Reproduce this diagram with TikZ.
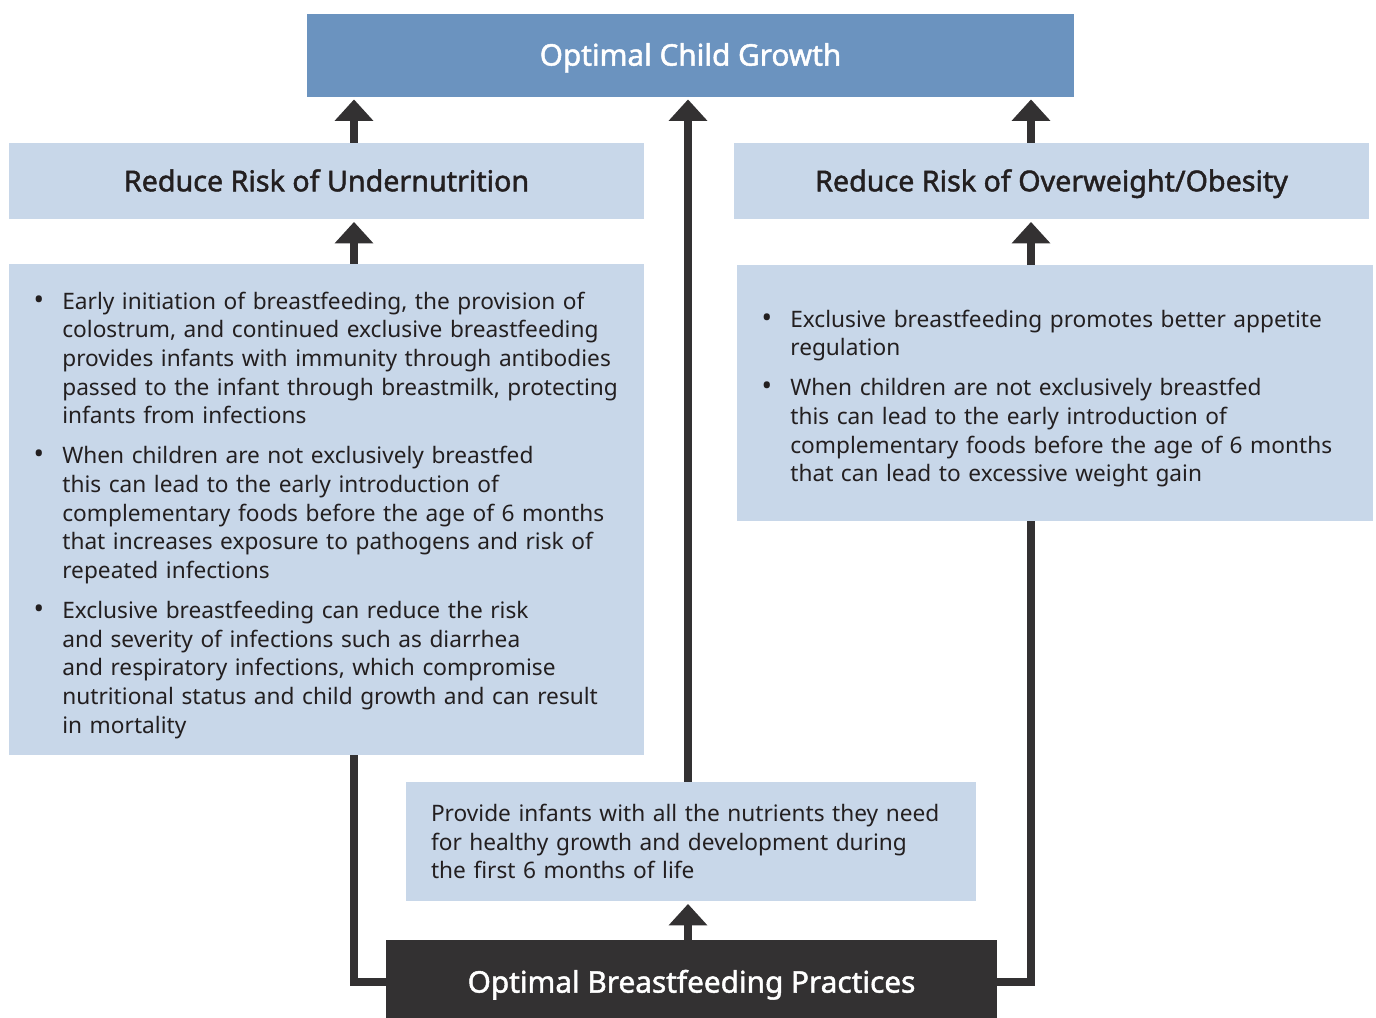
\documentclass[tikz,border=0pt]{standalone}
\usepackage{fontspec}
\setmainfont{Noto Sans}
\newfontfamily\headfont{Noto Sans}[FakeBold=1.6]
\usetikzlibrary{arrows.meta,positioning}

\definecolor{growthblue}{HTML}{6B93BF}
\definecolor{paleblue}{HTML}{C8D7E9}
\definecolor{charcoal}{HTML}{333132}
\definecolor{inktext}{HTML}{231F20}

% one bulleted paragraph, lines broken by hand with \newline
\newcommand{\bpoint}[1]{\par\noindent\hangindent=20.5pt\hangafter=1\makebox[20.5pt][l]{\hspace{-1pt}{\fontsize{21}{0}\selectfont\textbullet}}#1\par}
\newcommand{\bgap}{\vspace{8.5pt}}

\begin{document}
\begin{tikzpicture}[x=0.75pt, y=-0.75pt, >=Latex, every node/.style={text=inktext},
  box/.style={fill=paleblue, inner sep=0pt, align=center, text height=15.4pt, text depth=0pt, font=\headfont\fontsize{21.5}{25}\selectfont},
  bodybox/.style={fill=paleblue, inner sep=0pt, align=left, font=\fontsize{17}{21.5}\selectfont, execute at begin node={\leftskip=19.5pt}},
  flow/.style={line width=6pt, draw=charcoal, -{Triangle[width=28pt,length=16pt]}, shorten >=2pt},
  link/.style={line width=6pt, draw=charcoal, line join=miter}]
\useasboundingbox (0,0) rectangle (1376,1017);

% columns for the connectors
\coordinate (lcol) at (354,0);
\coordinate (mcol) at (688,0);
\coordinate (rcol) at (1031,0);

\node[box, fill=growthblue, text=white, text height=15.9pt, font=\headfont\fontsize{22.3}{26}\selectfont, minimum width=575.25pt, minimum height=62.25pt] (growth) at (690.5,55) {Optimal Child Growth};
\node[box, minimum width=476.25pt, minimum height=57pt] (under) at (326.5,181) {Reduce Risk of Undernutrition};
\node[box, minimum width=476.25pt, minimum height=57pt] (over) at (1051.5,181) {Reduce Risk of Overweight/Obesity};

\node[bodybox, text width=476.25pt, minimum height=368.25pt] (underbody) at (326.5,509.5) {%
\bpoint{Early initiation of breastfeeding, the provision of\newline colostrum, and continued exclusive breastfeeding\newline provides infants with immunity through antibodies\newline passed to the infant through breastmilk, protecting\newline infants from infections}\bgap
\bpoint{When children are not exclusively breastfed\newline this can lead to the early introduction of\newline complementary foods before the age of 6 months\newline that increases exposure to pathogens and risk of\newline repeated infections}\bgap
\bpoint{Exclusive breastfeeding can reduce the risk\newline and severity of infections such as diarrhea\newline and respiratory infections, which compromise\newline nutritional status and child growth and can result\newline in mortality}};

\node[bodybox, text width=477pt, minimum height=192pt] (overbody) at (1055,393) {%
\bpoint{Exclusive breastfeeding promotes better appetite\newline regulation}\bgap
\bpoint{When children are not exclusively breastfed\newline this can lead to the early introduction of\newline complementary foods before the age of 6 months\newline that can lead to excessive weight gain}};

\node[bodybox, execute at begin node={\leftskip=18.75pt}, text width=427.5pt, minimum height=89.25pt] (nutrients) at (691,841.5) {Provide infants with all the nutrients they need\\for healthy growth and development during\\the first 6 months of life};

% runs past the lower edge, which crops it
\node[box, fill=charcoal, text=white, text height=15.9pt, font=\headfont\fontsize{22.3}{26}\selectfont, minimum width=458.25pt, minimum height=63pt] (practices) at (691.5,982) {Optimal Breastfeeding Practices};

% arrows up the columns
\draw[flow] (underbody.north -| lcol) -- (under.south -| lcol);
\draw[flow] (under.north -| lcol) -- (growth.south -| lcol);
\draw[flow] (overbody.north -| rcol) -- (over.south -| rcol);
\draw[flow] (over.north -| rcol) -- (growth.south -| rcol);
\draw[flow] (nutrients.north -| mcol) -- (growth.south -| mcol);
\draw[flow] (practices.north -| mcol) -- (nutrients.south -| mcol);

% side links from the practices box
\draw[link] (practices.west) -- (practices.west -| lcol) -- (underbody.south -| lcol);
\draw[link] (practices.east) -- (practices.east -| rcol) -- (overbody.south -| rcol);
\end{tikzpicture}
\end{document}
